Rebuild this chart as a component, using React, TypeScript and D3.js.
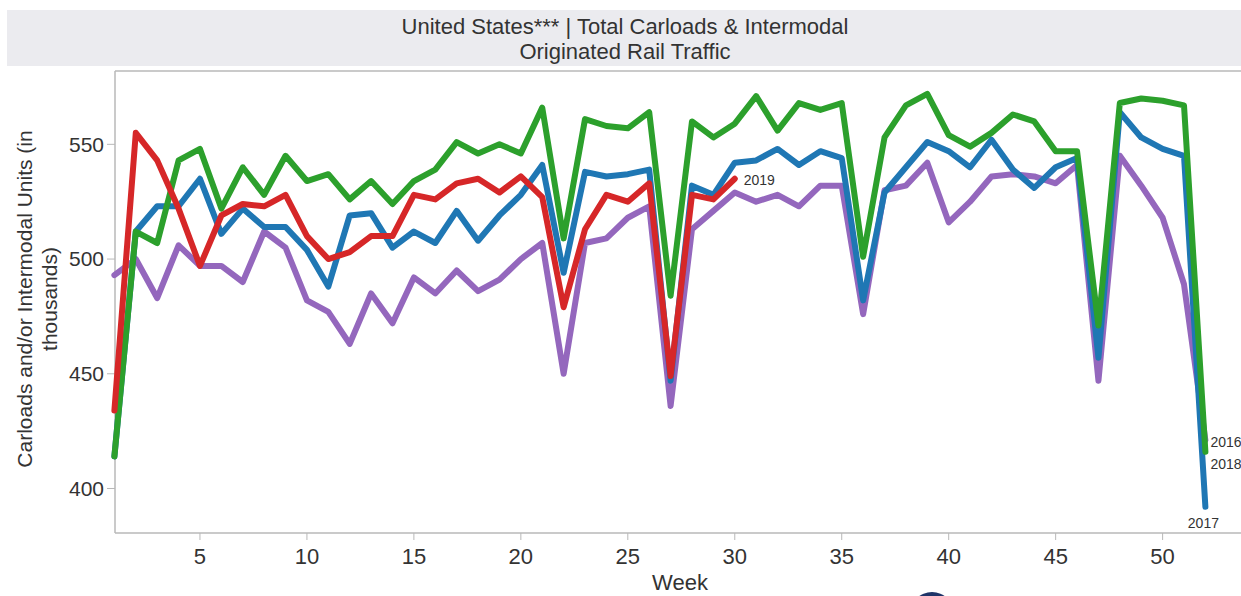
import React from "react";
import * as d3 from "d3";

const weeks: number[] = Array.from({ length: 52 }, (_, i) => i + 1);

const y2016: number[] = [
  493, 500, 483, 506, 497, 497, 490, 512, 505, 482,
  477, 463, 485, 472, 492, 485, 495, 486, 491, 500,
  507, 450, 507, 509, 518, 523, 436, 513, 521, 529,
  525, 528, 523, 532, 532, 476, 530, 532, 542, 516,
  525, 536, 537, 536, 533, 541, 447, 545, 532, 518,
  489, 421,
];

const y2017: number[] = [
  414, 512, 523, 523, 535, 511, 522, 514, 514, 504,
  488, 519, 520, 505, 512, 507, 521, 508, 519, 528,
  541, 494, 538, 536, 537, 539, 447, 532, 528, 542,
  543, 548, 541, 547, 544, 482, 529, 540, 551, 547,
  540, 552, 539, 531, 540, 544, 457, 564, 553, 548,
  545, 392,
];

const y2018: number[] = [
  414, 512, 507, 543, 548, 522, 540, 528, 545, 534,
  537, 526, 534, 524, 534, 539, 551, 546, 550, 546,
  566, 509, 561, 558, 557, 564, 484, 560, 553, 559,
  571, 556, 568, 565, 568, 501, 553, 567, 572, 554,
  549, 555, 563, 560, 547, 547, 471, 568, 570, 569,
  567, 416,
];

const y2019: number[] = [
  434, 555, 543, 522, 497, 519, 524, 523, 528, 510,
  500, 503, 510, 510, 528, 526, 533, 535, 529, 536,
  527, 479, 513, 528, 525, 533, 449, 528, 526, 535,
];

const seriesNames: string[] = ["2016", "2017", "2018", "2019"];
const seriesValues: number[][] = [y2016, y2017, y2018, y2019];
const seriesColors: string[] = ["#9467bd", "#1f77b4", "#2ca02c", "#d62728"];

const xTicks: number[] = [5, 10, 15, 20, 25, 30, 35, 40, 45, 50];
const yTicks: number[] = [400, 450, 500, 550];

const titleLines: string[] = [
  "United States*** | Total Carloads & Intermodal",
  "Originated Rail Traffic",
];
const yTitleLines: string[] = ["Carloads and/or Intermodal Units (in", "thousands)"];
const xTitle = "Week";

const W = 1241;
const H = 596;
const left = 115;
const top = 71;
const bottom = 533;
const FONT = "'Liberation Sans', Arial, sans-serif";

// label offsets (dx, dy, anchor) relative to each series' last point
const labelOffsets: Record<string, [number, number, string]> = {
  "2016": [5, 7, "start"],
  "2017": [-2, 21, "middle"],
  "2018": [5, 17, "start"],
  "2019": [9, 6, "start"],
};

export default function App() {
  const x = d3.scaleLinear().domain([1, 52]).range([114.4, 1205.4]);
  const y = d3.scaleLinear().domain([380.6, 582.4]).range([bottom, 70]);
  const line = d3
    .line<number>()
    .x((_, i) => x(weeks[i]))
    .y((d) => y(d));

  return (
    <svg
      width={W}
      height={H}
      style={{ position: "absolute", left: 0, top: 0, background: "#fff" }}
      fontFamily={FONT}
    >
      <rect x={7} y={10} width={W - 7} height={56} fill="#ebebef" />
      {titleLines.map((t, i) => (
        <text key={t} x={625} y={34 + i * 25} textAnchor="middle" fontSize={22} fill="#333">
          {t}
        </text>
      ))}

      {/* frame */}
      <line x1={left} x2={W} y1={top} y2={top} stroke="#b8b8b8" strokeWidth={1.5} />
      <line x1={left} x2={left} y1={top} y2={bottom} stroke="#b8b8b8" strokeWidth={1.5} />
      <line x1={left} x2={W} y1={bottom} y2={bottom} stroke="#b8b8b8" strokeWidth={1.5} />

      {/* y axis */}
      {yTicks.map((t) => (
        <g key={t}>
          <line x1={left - 8} x2={left} y1={y(t)} y2={y(t)} stroke="#b8b8b8" strokeWidth={1} />
          <text x={left - 11} y={y(t)} dy="0.35em" textAnchor="end" fontSize={21} fill="#333">
            {t}
          </text>
        </g>
      ))}
      <g transform={`translate(0, 299) rotate(-90)`}>
        {yTitleLines.map((t, i) => (
          <text key={t} x={0} y={32 + i * 25} textAnchor="middle" fontSize={21} fill="#333">
            {t}
          </text>
        ))}
      </g>

      {/* x axis */}
      {xTicks.map((t) => (
        <g key={t}>
          <line x1={x(t)} x2={x(t)} y1={bottom} y2={bottom + 7} stroke="#b8b8b8" strokeWidth={1} />
          <text x={x(t)} y={bottom + 31} textAnchor="middle" fontSize={22} fill="#333">
            {t}
          </text>
        </g>
      ))}
      <text x={680} y={590} textAnchor="middle" fontSize={22} fill="#333">
        {xTitle}
      </text>

      {/* lines */}
      {seriesValues.map((vals, i) => (
        <path
          key={seriesNames[i]}
          d={line(vals) || ""}
          fill="none"
          stroke={seriesColors[i]}
          strokeWidth={6}
          strokeLinejoin="round"
          strokeLinecap="round"
        />
      ))}
      {seriesValues.map((vals, i) => {
        const n = vals.length;
        const name = seriesNames[i];
        const [dx, dy, anchor] = labelOffsets[name];
        return (
          <text
            key={name}
            x={x(weeks[n - 1]) + dx}
            y={y(vals[n - 1]) + dy}
            textAnchor={anchor}
            fontSize={14}
            fill="#333"
          >
            {name}
          </text>
        );
      })}

      {/* partial logo at the bottom */}
      <circle cx={932} cy={614} r={22} fill="#1f3468" />
    </svg>
  );
}
